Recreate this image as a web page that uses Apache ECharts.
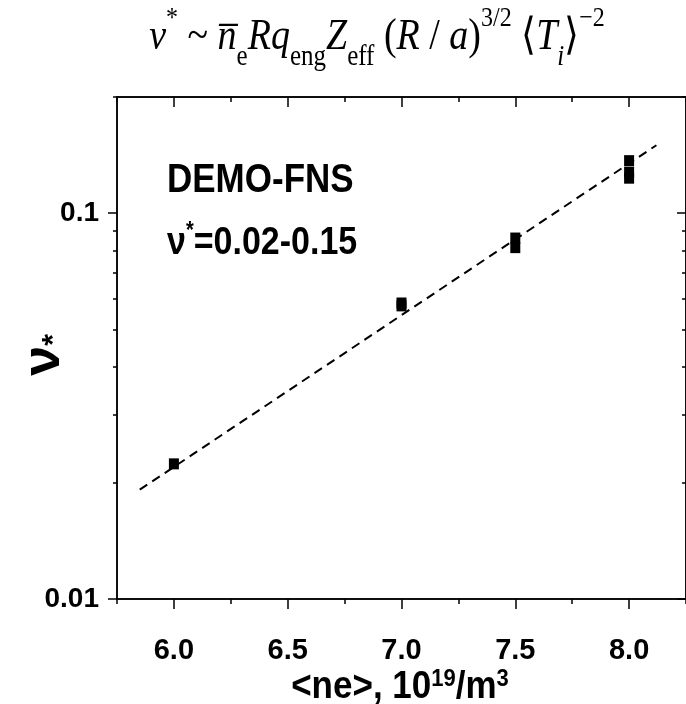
<!DOCTYPE html>
<html>
<head>
<meta charset="utf-8">
<script src="https://cdn.jsdelivr.net/npm/echarts@6/dist/echarts.min.js"></script>
<style>
  html, body { margin: 0; padding: 0; background: #fff; }
  #chart { width: 686px; height: 704px; }
</style>
</head>
<body>
<div id="chart"></div>
<script>
// Collisionality ν* versus line-averaged density for DEMO-FNS
const densityValues = [6.0, 7.0, 7.0, 7.5, 7.5, 8.0, 8.0, 8.0];
const nuStarValues  = [0.0224, 0.0585, 0.0575, 0.0862, 0.0814, 0.1368, 0.1277, 0.1232];

// power-law fit drawn as a dashed line (straight on the log axis)
const fitDensity = [5.85, 8.12];
const fitNuStar  = [0.0192, 0.150];

const xMajorTicks = [6.0, 6.5, 7.0, 7.5, 8.0];
const xMinorTicks = [5.75, 6.25, 6.75, 7.25, 7.75, 8.25];
const yMajorTicks = [0.01, 0.1];
const yMinorTicks = [0.02, 0.03, 0.04, 0.05, 0.06, 0.07, 0.08, 0.09, 0.2];

const SANS = "'Liberation Sans', Arial, Helvetica, sans-serif";
const SERIF = "'Liberation Serif', 'Times New Roman', serif";

const points = densityValues.map((x, i) => [x, nuStarValues[i]]);
const fitLine = fitDensity.map((x, i) => [x, fitNuStar[i]]);

const X_MIN = 5.75, X_MAX = 8.25;
const Y_MIN = 0.01, Y_MAX = 0.2;
const lineStyle = { color: '#000', width: 1.5 };

function xAxisDef(position, ticks, len, inside, labels) {
  return {
    type: 'value', min: X_MIN, max: X_MAX, position: position,
    axisLine: { show: true, onZero: false, lineStyle: lineStyle },
    axisTick: { show: true, inside: inside, length: len, customValues: ticks, lineStyle: lineStyle },
    axisLabel: labels
      ? { show: true, customValues: ticks, margin: 37, fontFamily: SANS, fontWeight: 'bold', fontSize: 29, color: '#000',
          formatter: v => v.toFixed(1) }
      : { show: false },
    splitLine: { show: false }
  };
}
function yAxisDef(position, ticks, len, inside, labels) {
  return {
    type: 'log', logBase: 10, min: Y_MIN, max: Y_MAX, position: position,
    axisLine: { show: true, onZero: false, lineStyle: lineStyle },
    axisTick: { show: true, inside: inside, length: len, customValues: ticks, lineStyle: lineStyle },
    axisLabel: labels
      ? { show: true, customValues: ticks, margin: 18, fontFamily: SANS, fontWeight: 'bold', fontSize: 28, color: '#000',
          formatter: v => (v >= 0.1 ? '0.1' : '0.01') }
      : { show: false },
    splitLine: { show: false }, minorTick: { show: false }
  };
}

const chart = echarts.init(document.getElementById('chart'), null, { renderer: 'canvas' });
chart.setOption({
  backgroundColor: '#fff',
  animation: false,
  grid: { left: 117, top: 97, width: 574.5, height: 502, containLabel: false },
  xAxis: [
    xAxisDef('bottom', xMajorTicks, 10, false, true),
    xAxisDef('bottom', xMinorTicks, 5, false, false),
    xAxisDef('top', xMajorTicks, 10, true, false),
    xAxisDef('top', xMinorTicks, 5, true, false)
  ],
  yAxis: [
    yAxisDef('left', yMajorTicks, 9, false, true),
    yAxisDef('left', yMinorTicks, 4, false, false),
    yAxisDef('right', yMajorTicks, 9, true, false),
    yAxisDef('right', yMinorTicks, 4, true, false)
  ],
  series: [
    {
      type: 'line', data: fitLine, xAxisIndex: 0, yAxisIndex: 0,
      symbol: 'none', silent: true,
      lineStyle: { color: '#000', width: 2, type: [9, 6] }
    },
    {
      type: 'scatter', data: points, xAxisIndex: 0, yAxisIndex: 0,
      symbol: 'rect', symbolSize: [10, 11],
      itemStyle: { color: '#000', opacity: 1 }
    }
  ],
  graphic: [
    {
      type: 'text', x: 377, y: 38, scaleY: 1.15,
      style: {
        text: '{i|ν}{sup|*}{n| ~ }{i|n\u0305}{sub|e}{i|Rq}{sub|eng}{i|Z}{sub|eff}{n| (}{i|R}{n| / }{i|a}{n|)}{sup|3/2}{n| \u27E8}{i|T}{isub|i}{n|\u27E9}{sup|\u22122}',
        align: 'center', verticalAlign: 'middle',
        rich: {
          i:    { fontFamily: SERIF, fontStyle: 'italic', fontSize: 38, lineHeight: 58, verticalAlign: 'middle', fill: '#000' },
          n:    { fontFamily: SERIF, fontSize: 38, lineHeight: 58, verticalAlign: 'middle', fill: '#000' },
          sub:  { fontFamily: SERIF, fontSize: 25, lineHeight: 24, verticalAlign: 'bottom', fill: '#000' },
          isub: { fontFamily: SERIF, fontStyle: 'italic', fontSize: 25, lineHeight: 24, verticalAlign: 'bottom', fill: '#000' },
          sup:  { fontFamily: SERIF, fontSize: 24, lineHeight: 24, verticalAlign: 'top', fill: '#000' }
        }
      }
    },
    {
      type: 'text', x: 44, y: 355, rotation: Math.PI / 2,
      style: {
        text: '{a|ν}{b|*}', align: 'center', verticalAlign: 'middle',
        rich: {
          a: { fontFamily: SANS, fontWeight: 'bold', fontSize: 54, lineHeight: 50, verticalAlign: 'middle', fill: '#000' },
          b: { fontFamily: SANS, fontWeight: 'bold', fontSize: 30, lineHeight: 41, verticalAlign: 'bottom', fill: '#000' }
        }
      }
    },
    {
      type: 'text', x: 400, y: 687, scaleY: 1.1,
      style: {
        text: '{a|<ne>, 10}{s|19}{a|/m}{s|3}', align: 'center', verticalAlign: 'middle',
        rich: {
          a: { fontFamily: SANS, fontWeight: 'bold', fontSize: 35, lineHeight: 36, verticalAlign: 'middle', fill: '#000' },
          s: { fontFamily: SANS, fontWeight: 'bold', fontSize: 22, lineHeight: 22, verticalAlign: 'top', fill: '#000' }
        }
      }
    },
    {
      type: 'text', x: 167, y: 181, scaleY: 1.15,
      style: { text: 'DEMO-FNS', fontFamily: SANS, fontWeight: 'bold', fontSize: 35, fill: '#000', verticalAlign: 'middle' }
    },
    {
      type: 'text', x: 167, y: 243, scaleY: 1.15,
      style: {
        text: '{a|ν}{b|*}{a|=0.02-0.15}', verticalAlign: 'middle',
        rich: {
          a: { fontFamily: SANS, fontWeight: 'bold', fontSize: 34, lineHeight: 40, verticalAlign: 'middle', fill: '#000' },
          b: { fontFamily: SANS, fontWeight: 'bold', fontSize: 20, lineHeight: 20, verticalAlign: 'top', fill: '#000' }
        }
      }
    }
  ]
});
</script>
</body>
</html>
